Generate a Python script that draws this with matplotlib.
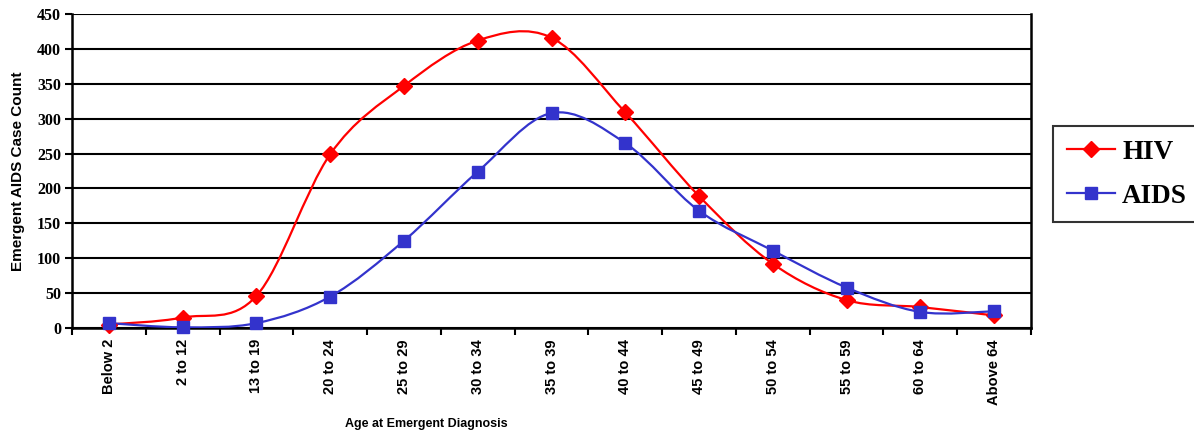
import numpy as np
import matplotlib
matplotlib.use("Agg")
import matplotlib.pyplot as plt
from matplotlib.path import Path
from matplotlib.patches import PathPatch
from matplotlib.lines import Line2D

# Case counts by age group at diagnosis
age_groups = ["Below 2", "2 to 12", "13 to 19", "20 to 24", "25 to 29", "30 to 34",
              "35 to 39", "40 to 44", "45 to 49", "50 to 54", "55 to 59", "60 to 64",
              "Above 64"]
hiv_counts = [5, 15, 46, 249, 347, 412, 416, 309, 189, 92, 40, 30, 18]
aids_counts = [7, 1, 7, 45, 125, 224, 308, 265, 168, 111, 58, 23, 24]
y_ticks = [0, 50, 100, 150, 200, 250, 300, 350, 400, 450]

HIV_COLOR = "#FF0000"
AIDS_COLOR = "#3333CC"


def smooth_path(xs, ys):
    """Cubic Bezier path through the points (Catmull-Rom style tangents)."""
    pts = np.column_stack([xs, ys]).astype(float)
    n = len(pts)
    verts = [pts[0]]
    codes = [Path.MOVETO]
    for i in range(n - 1):
        p0 = pts[i - 1] if i > 0 else pts[i]
        p1 = pts[i]
        p2 = pts[i + 1]
        p3 = pts[i + 2] if i + 2 < n else pts[i + 1]
        c1 = p1 + (p2 - p0) / 6.0
        c2 = p2 - (p3 - p1) / 6.0
        verts += [c1, c2, p2]
        codes += [Path.CURVE4] * 3
    return Path(verts, codes)


fig = plt.figure(figsize=(11.94, 4.32), dpi=100)
ax = fig.add_axes([72 / 1194, 1 - 328 / 432, (1031 - 72) / 1194, (328 - 14) / 432])

x = np.arange(len(age_groups))

for vals, color, marker, ms in [(hiv_counts, HIV_COLOR, "D", 8.5),
                                (aids_counts, AIDS_COLOR, "s", 8.5)]:
    ax.add_patch(PathPatch(smooth_path(x, vals), facecolor="none",
                           edgecolor=color, lw=1.6, zorder=3))
    ax.plot(x, vals, linestyle="none", marker=marker, markersize=ms,
            color=color, markeredgecolor=color, zorder=4, clip_on=False)

ax.set_xlim(-0.5, len(age_groups) - 0.5)
ax.set_ylim(0, 450)

# horizontal gridlines
ax.set_yticks(y_ticks)
ax.yaxis.grid(True, color="black", lw=1.5)
ax.set_axisbelow(True)

ax.set_xticks(x)
ax.set_xticklabels(age_groups, rotation=90, fontsize=10.5, fontweight="bold",
                   family="Liberation Sans")
ax.set_xticks(np.arange(-0.5, len(age_groups)), minor=True)
ax.tick_params(axis="x", which="major", length=0, pad=8)
ax.tick_params(axis="x", which="minor", length=5, width=1.5, direction="out")
ax.tick_params(axis="y", length=5, width=1.5, direction="out", pad=3)
for lab in ax.get_yticklabels():
    lab.set_family("Liberation Serif")
    lab.set_fontweight("bold")
    lab.set_fontsize(11.5)

for side in ["left", "bottom", "right"]:
    ax.spines[side].set_linewidth(1.8)
    ax.spines[side].set_color("black")
ax.spines["top"].set_visible(False)

ax.set_ylabel("Emergent AIDS Case Count", fontsize=11, fontweight="bold",
              family="Liberation Sans")
ax.yaxis.set_label_coords(-0.049, 0.5)
fig.text(426 / 1194, 1 - 424 / 432, "Age at Emergent Diagnosis", ha="center",
         va="center", fontsize=9, fontweight="bold", family="Liberation Sans")

handles = [
    Line2D([], [], color=HIV_COLOR, lw=1.6, marker="D", markersize=8.5),
    Line2D([], [], color=AIDS_COLOR, lw=1.6, marker="s", markersize=8.5),
]
leg = fig.legend(handles, ["HIV", "AIDS"], loc="upper left",
                 bbox_to_anchor=(1053 / 1194, 1 - 126 / 432),
                 prop={"family": "Liberation Serif", "weight": "bold", "size": 19.5},
                 handlelength=1.8, handletextpad=0.25, borderpad=0.5,
                 labelspacing=0.7, borderaxespad=0, fancybox=False,
                 frameon=True, edgecolor="black")
leg.get_frame().set_linewidth(1.5)

fig.savefig("out.png", dpi=100)
